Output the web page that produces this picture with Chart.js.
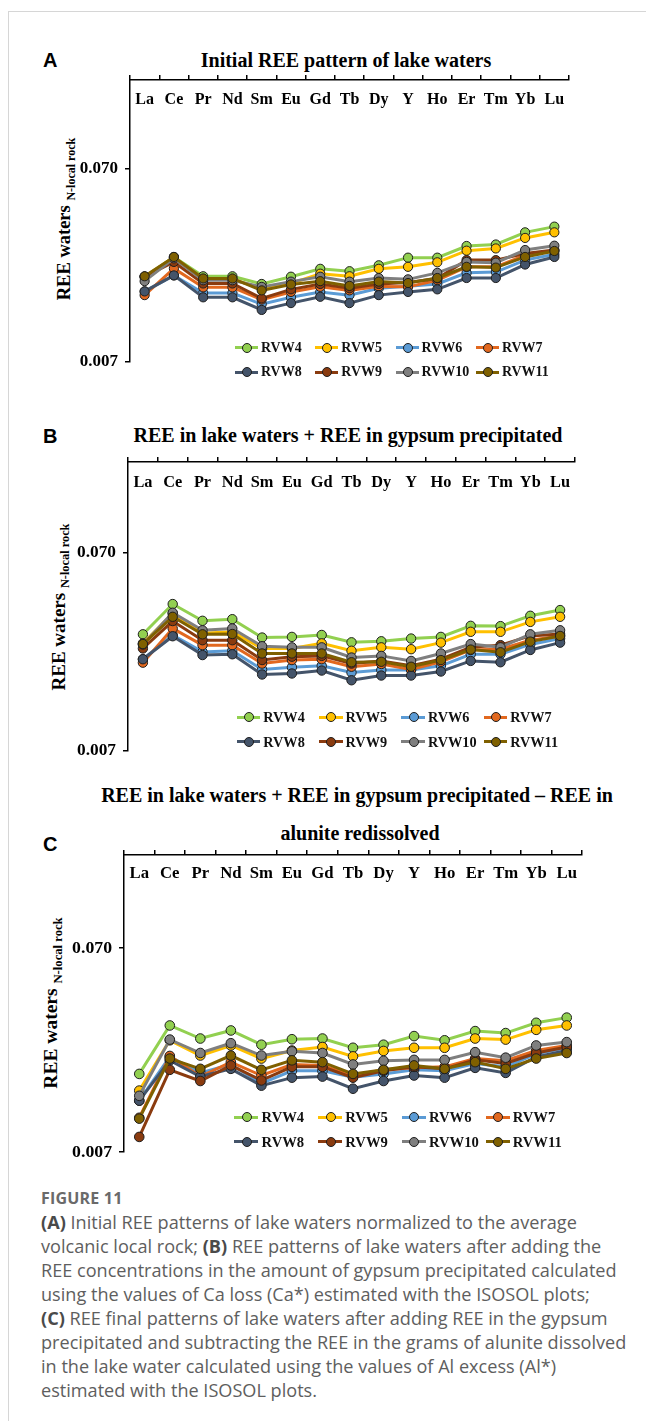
<!DOCTYPE html>
<html>
<head>
<meta charset="utf-8">
<title>REE patterns of lake waters</title>
<script src="https://cdn.jsdelivr.net/npm/chart.js@4.4.1/dist/chart.umd.min.js"></script>
<style>
  body { margin: 0; background: #fff; }
  #page { position: relative; width: 646px; height: 1421px; overflow: hidden; font-family: "Liberation Serif", "Times New Roman", serif; }
  .frame-top { position: absolute; left: 8px; top: 11px; right: 0; border-top: 1px solid #d6d6d6; }
  .frame-left { position: absolute; left: 8px; top: 11px; bottom: 0; border-left: 1px solid #d6d6d6; }
  .letter { position: absolute; font: bold 20px "Liberation Sans", Arial, sans-serif; line-height: 20px; color: #000; }
  .title { position: absolute; font-weight: bold; font-size: 20px; line-height: 20px; white-space: nowrap; transform: translateX(-50%); color: #000; }
  .ytitle { position: absolute; white-space: nowrap; font-weight: bold; color: #000; transform: translate(-50%, -50%) rotate(-90deg); line-height: 1; }
  .ytitle sub { font-size: 0.65em; vertical-align: -0.35em; }
  .wrap { position: absolute; }
  .lg-item { position: absolute; height: 14px; white-space: nowrap; }
  .lg-line { position: absolute; top: 5.5px; height: 3px; }
  .lg-dot { position: absolute; top: 2px; width: 8px; height: 8px; border-radius: 50%; border: 1px solid #1e1e1e; }
  .lg-text { position: absolute; top: 0; font-weight: bold; line-height: 14px; color: #111; }
  .caption { position: absolute; left: 41px; top: 1186px; color: #5e5e5e; font-family: "Open Sans", Lato, sans-serif; font-size: 17px; line-height: 24px; white-space: nowrap; }
  .caption .fig { color: #6a6a6a; font-weight: bold; font-size: 16px; letter-spacing: 0.2px; }
  .caption b { color: #4a4a4a; }
</style>
</head>
<body>
<div id="page">
  <div class="frame-top"></div>
  <div class="frame-left"></div>

  <div class="letter" style="left:43px; top:50px;">A</div>
  <div class="title" style="left:346px; top:50px;">Initial REE pattern of lake waters</div>
  <div class="ytitle" style="left:66px; top:219px; font-size:18.5px;">REE waters <sub>N-local rock</sub></div>
  <div class="wrap" id="wrapA"><canvas id="chartA"></canvas></div>
  <div id="legendA"></div>

  <div class="letter" style="left:43px; top:426px;">B</div>
  <div class="title" style="left:348px; top:425px;">REE in lake waters + REE in gypsum precipitated</div>
  <div class="ytitle" style="left:60px; top:607px; font-size:19px;">REE waters <sub>N-local rock</sub></div>
  <div class="wrap" id="wrapB"><canvas id="chartB"></canvas></div>
  <div id="legendB"></div>

  <div class="title" style="left:357px; top:785px;">REE in lake waters + REE in gypsum precipitated – REE in</div>
  <div class="letter" style="left:43px; top:834px;">C</div>
  <div class="title" style="left:360px; top:823px;">alunite redissolved</div>
  <div class="ytitle" style="left:53px; top:1003px; font-size:19.5px;">REE waters <sub>N-local rock</sub></div>
  <div class="wrap" id="wrapC"><canvas id="chartC"></canvas></div>
  <div id="legendC"></div>

  <div class="caption" id="caption">
    <div class="fig">FIGURE 11</div>
    <div><b>(A)</b> Initial REE patterns of lake waters normalized to the average</div>
    <div>volcanic local rock; <b>(B)</b> REE patterns of lake waters after adding the</div>
    <div><span id="capLong">REE concentrations in the amount of gypsum precipitated calculated</span></div>
    <div>using the values of Ca loss (Ca*) estimated with the ISOSOL plots;</div>
    <div><b>(C)</b> REE final patterns of lake waters after adding REE in the gypsum</div>
    <div>precipitated and subtracting the REE in the grams of alunite dissolved</div>
    <div>in the lake water calculated using the values of Al excess (Al*)</div>
    <div>estimated with the ISOSOL plots.</div>
  </div>
</div>

<script>
// element order along the x axis
const elements = ['La', 'Ce', 'Pr', 'Nd', 'Sm', 'Eu', 'Gd', 'Tb', 'Dy', 'Y', 'Ho', 'Er', 'Tm', 'Yb', 'Lu'];
const series = ['RVW4', 'RVW5', 'RVW6', 'RVW7', 'RVW8', 'RVW9', 'RVW10', 'RVW11'];
const yTicks = [0.007, 0.07];

// A: initial REE pattern of lake waters (normalized to local rock)
const rvw4A  = [0.0193, 0.0244, 0.0194, 0.0194, 0.0177, 0.0193, 0.0212, 0.0206, 0.0221, 0.0242, 0.0242, 0.0278, 0.0283, 0.0327, 0.0350];
const rvw5A  = [0.0193, 0.0243, 0.0187, 0.0187, 0.0168, 0.0178, 0.0200, 0.0194, 0.0212, 0.0217, 0.0229, 0.0263, 0.0270, 0.0306, 0.0327];
const rvw6A  = [0.0162, 0.0196, 0.0159, 0.0159, 0.0139, 0.0151, 0.0161, 0.0155, 0.0168, 0.0172, 0.0177, 0.0202, 0.0204, 0.0235, 0.0252];
const rvw7A  = [0.0155, 0.0213, 0.0170, 0.0170, 0.0147, 0.0161, 0.0171, 0.0164, 0.0172, 0.0171, 0.0185, 0.0217, 0.0217, 0.0249, 0.0263];
const rvw8A  = [0.0162, 0.0196, 0.0151, 0.0151, 0.0130, 0.0141, 0.0152, 0.0141, 0.0155, 0.0161, 0.0166, 0.0190, 0.0190, 0.0223, 0.0244];
const rvw9A  = [0.0193, 0.0230, 0.0178, 0.0178, 0.0149, 0.0166, 0.0177, 0.0168, 0.0177, 0.0180, 0.0189, 0.0235, 0.0235, 0.0254, 0.0265];
const rvw10A = [0.0183, 0.0240, 0.0185, 0.0185, 0.0171, 0.0182, 0.0193, 0.0182, 0.0190, 0.0187, 0.0202, 0.0230, 0.0228, 0.0265, 0.0279];
const rvw11A = [0.0194, 0.0244, 0.0189, 0.0189, 0.0164, 0.0176, 0.0183, 0.0173, 0.0182, 0.0179, 0.0190, 0.0217, 0.0215, 0.0244, 0.0262];

// B: lake waters + REE in gypsum precipitated
const rvw4B  = [0.0271, 0.0385, 0.0317, 0.0323, 0.0261, 0.0263, 0.0269, 0.0247, 0.0250, 0.0258, 0.0263, 0.0299, 0.0298, 0.0336, 0.0359];
const rvw5B  = [0.0244, 0.0345, 0.0274, 0.0279, 0.0230, 0.0230, 0.0244, 0.0224, 0.0233, 0.0228, 0.0246, 0.0279, 0.0279, 0.0313, 0.0332];
const rvw6B  = [0.0203, 0.0269, 0.0221, 0.0224, 0.0180, 0.0185, 0.0188, 0.0174, 0.0179, 0.0179, 0.0188, 0.0215, 0.0215, 0.0241, 0.0258];
const rvw7B  = [0.0195, 0.0290, 0.0239, 0.0239, 0.0193, 0.0201, 0.0203, 0.0186, 0.0192, 0.0180, 0.0197, 0.0226, 0.0228, 0.0253, 0.0266];
const rvw8B  = [0.0203, 0.0265, 0.0213, 0.0215, 0.0170, 0.0172, 0.0178, 0.0159, 0.0168, 0.0168, 0.0176, 0.0199, 0.0196, 0.0226, 0.0246];
const rvw9B  = [0.0230, 0.0316, 0.0253, 0.0253, 0.0201, 0.0209, 0.0211, 0.0193, 0.0199, 0.0188, 0.0203, 0.0233, 0.0239, 0.0266, 0.0272];
const rvw10B = [0.0241, 0.0348, 0.0284, 0.0290, 0.0236, 0.0233, 0.0233, 0.0207, 0.0211, 0.0199, 0.0217, 0.0242, 0.0233, 0.0271, 0.0284];
const rvw11B = [0.0242, 0.0332, 0.0271, 0.0272, 0.0217, 0.0217, 0.0217, 0.0196, 0.0197, 0.0186, 0.0201, 0.0227, 0.0220, 0.0249, 0.0266];

// C: B minus REE in alunite redissolved
const rvw4C  = [0.0169, 0.0292, 0.0252, 0.0276, 0.0235, 0.0250, 0.0252, 0.0227, 0.0235, 0.0259, 0.0247, 0.0274, 0.0268, 0.0301, 0.0319];
const rvw5C  = [0.0140, 0.0247, 0.0208, 0.0233, 0.0201, 0.0220, 0.0229, 0.0206, 0.0219, 0.0227, 0.0227, 0.0252, 0.0249, 0.0278, 0.0292];
const rvw6C  = [0.0125, 0.0205, 0.0171, 0.0188, 0.0152, 0.0175, 0.0175, 0.0163, 0.0169, 0.0177, 0.0175, 0.0190, 0.0183, 0.0212, 0.0227];
const rvw7C  = [0.0103, 0.0207, 0.0164, 0.0193, 0.0166, 0.0188, 0.0186, 0.0166, 0.0177, 0.0181, 0.0183, 0.0201, 0.0196, 0.0220, 0.0233];
const rvw8C  = [0.0125, 0.0197, 0.0164, 0.0179, 0.0148, 0.0162, 0.0164, 0.0143, 0.0156, 0.0166, 0.0162, 0.0181, 0.0171, 0.0205, 0.0220];
const rvw9C  = [0.0083, 0.0177, 0.0156, 0.0186, 0.0157, 0.0183, 0.0183, 0.0162, 0.0175, 0.0183, 0.0179, 0.0198, 0.0190, 0.0214, 0.0229];
const rvw10C = [0.0132, 0.0249, 0.0214, 0.0239, 0.0208, 0.0218, 0.0214, 0.0188, 0.0196, 0.0198, 0.0198, 0.0216, 0.0203, 0.0233, 0.0242];
const rvw11C = [0.0102, 0.0201, 0.0179, 0.0208, 0.0177, 0.0197, 0.0193, 0.0169, 0.0177, 0.0186, 0.0179, 0.0193, 0.0179, 0.0201, 0.0214];

const lineColors = ['#92D050', '#FFC000', '#5B9BD5', '#E2681F', '#44546A', '#8A3B0F', '#7F7F7F', '#7F6000'];
const serif = '"Liberation Serif", "Times New Roman", serif';

// category labels sit just under the top axis line
const elementLabels = {
    id: 'elementLabels',
    afterDraw(chart, args, opts) {
        const { ctx, chartArea, scales } = chart;
        ctx.save();
        ctx.font = `bold ${opts.size}px ${serif}`;
        ctx.fillStyle = '#000';
        ctx.textAlign = 'center';
        ctx.textBaseline = 'middle';
        chart.data.labels.forEach((lab, i) => {
            ctx.fillText(lab, scales.x.getPixelForValue(i), chartArea.top + opts.offset);
        });
        ctx.restore();
    }
};

function buildPanel(key, values, box, s, labelOffset) {
    // room around the plot area; top/bottom must cover the y tick label overhang
    const padL = 70, padT = 22, padR = 6, padB = 22;
    const wrap = document.getElementById('wrap' + key);
    const canvas = document.getElementById('chart' + key);
    const w = box.right - box.left + padL + padR;
    const h = box.bottom - box.top + padT + padB;
    wrap.style.left = (box.left - padL) + 'px';
    wrap.style.top = (box.top - padT) + 'px';
    canvas.width = w;
    canvas.height = h;
    canvas.style.width = w + 'px';
    canvas.style.height = h + 'px';

    return new Chart(canvas, {
        type: 'line',
        data: {
            labels: elements,
            datasets: series.map((name, i) => ({
                label: name,
                data: values[i],
                borderColor: lineColors[i],
                backgroundColor: lineColors[i],
                pointBackgroundColor: lineColors[i],
                pointBorderColor: '#1e1e1e',
                pointBorderWidth: 1,
                pointRadius: 4.6 * s,
                borderWidth: 3,
                tension: 0,
                order: series.length - i   // later series on top
            }))
        },
        options: {
            responsive: false,
            maintainAspectRatio: false,
            animation: false,
            devicePixelRatio: 1,
            layout: { padding: { left: 0, top: 0, right: padR, bottom: padB } },
            plugins: {
                legend: { display: false },
                tooltip: { enabled: false },
                elementLabels: { size: 16 * s, offset: labelOffset }
            },
            scales: {
                x: {
                    position: 'top',
                    offset: true,
                    grid: { offset: true, drawOnChartArea: false, tickLength: 5, color: '#000', lineWidth: 1.5 },
                    border: { color: '#000', width: 1.5 },
                    ticks: { display: false },
                    afterFit(scale) { scale.height = padT; }
                },
                y: {
                    type: 'logarithmic',
                    min: 0.007,
                    max: 0.2,
                    afterBuildTicks(scale) { scale.ticks = yTicks.map(v => ({ value: v })); },
                    grid: { drawOnChartArea: false, tickLength: 5, color: '#000', lineWidth: 1.5 },
                    border: { color: '#000', width: 1.5 },
                    ticks: {
                        callback: v => Number(v).toFixed(3),
                        color: '#000',
                        padding: 7,
                        font: { family: serif, size: 17 * s, weight: 'bold' }
                    },
                    afterFit(scale) { scale.width = padL; }
                }
            }
        },
        plugins: [elementLabels]
    });
}

function buildLegend(key, x0, y0, dx, dy, s) {
    const box = document.getElementById('legend' + key);
    series.forEach((name, i) => {
        const col = i % 4, row = Math.floor(i / 4);
        const cx = x0 + col * dx;
        const cy = y0 + row * dy;
        const item = document.createElement('div');
        item.className = 'lg-item';
        item.style.left = (cx - 12 * s) + 'px';
        item.style.top = (cy - 7) + 'px';
        item.innerHTML =
            `<span class="lg-line" style="left:0; width:${23 * s}px; background:${lineColors[i]}"></span>` +
            `<span class="lg-dot" style="left:${12 * s - 5}px; background:${lineColors[i]}"></span>` +
            `<span class="lg-text" style="left:${26 * s}px; font-size:${14 * s}px">${name}</span>`;
        box.appendChild(item);
    });
}

buildPanel('A', [rvw4A, rvw5A, rvw6A, rvw7A, rvw8A, rvw9A, rvw10A, rvw11A], { left: 130, top: 80, right: 569, bottom: 362 }, 1, 20);
buildPanel('B', [rvw4B, rvw5B, rvw6B, rvw7B, rvw8B, rvw9B, rvw10B, rvw11B], { left: 128, top: 462, right: 575, bottom: 751 }, 1.02, 21);
buildPanel('C', [rvw4C, rvw5C, rvw6C, rvw7C, rvw8C, rvw9C, rvw10C, rvw11C], { left: 124, top: 855, right: 582, bottom: 1152 }, 1.045, 19);

buildLegend('A', 247, 347.5, 80.3, 24.5, 1);
buildLegend('B', 249, 717, 82.3, 24.5, 1.02);
buildLegend('C', 247, 1117, 83.7, 24.5, 1.045);

// size the caption so its longest line spans the text column (x 41 to 617)
const capLong = document.getElementById('capLong');
const cap = document.getElementById('caption');
const capW = capLong.getBoundingClientRect().width;
cap.style.fontSize = (17 * 576 / capW).toFixed(2) + 'px';
</script>
</body>
</html>
